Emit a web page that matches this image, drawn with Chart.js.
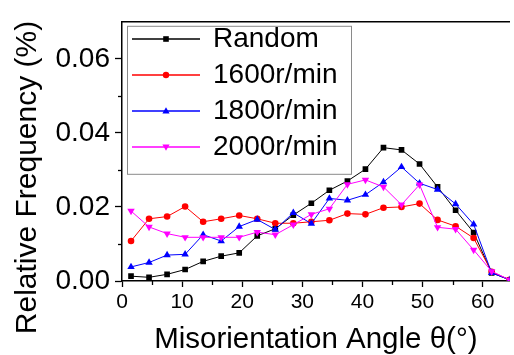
<!DOCTYPE html>
<html>
<head>
<meta charset="utf-8">
<script src="https://cdn.jsdelivr.net/npm/chart.js@4.4.1/dist/chart.umd.min.js"></script>
<style>
html,body{margin:0;padding:0;background:#fff;}
#wrap{width:514px;height:355px;}
</style>
</head>
<body>
<div id="wrap"><canvas id="c" width="514" height="355"></canvas></div>
<script>
// ---- data ----
const angles = [1.5,4.5,7.5,10.5,13.5,16.5,19.5,22.5,25.5,28.5,31.5,34.5,37.5,40.5,43.5,46.5,49.5,52.5,55.5,58.5,61.5,64.5];
const randomSeries = [0.0013,0.0010,0.0018,0.0031,0.0053,0.0067,0.0076,0.0122,0.0141,0.0178,0.0210,0.0245,0.0270,0.0302,0.0360,0.0354,0.0316,0.0254,0.0191,0.0131,0.0022,0.0003];
const rpm1600 = [0.0108,0.0168,0.0174,0.0201,0.0160,0.0168,0.0177,0.0168,0.0156,0.0156,0.0160,0.0164,0.0182,0.0180,0.0198,0.0200,0.0209,0.0165,0.0148,0.0116,0.0025,0.0003];
const rpm1800 = [0.0038,0.0050,0.0070,0.0072,0.0125,0.0108,0.0147,0.0166,0.0139,0.0184,0.0155,0.0223,0.0218,0.0233,0.0267,0.0308,0.0264,0.0247,0.0208,0.0153,0.0022,0.0003];
const rpm2000 = [0.0189,0.0146,0.0128,0.0118,0.0118,0.0118,0.0118,0.0132,0.0125,0.0152,0.0180,0.0195,0.0261,0.0273,0.0254,0.0206,0.0260,0.0145,0.0140,0.0084,0.0026,0.0003];
const seriesNames = ['Random','1600r/min','1800r/min','2000r/min'];
const xMinorTicks = [5,15,25,35,45,55];
const yMinorTicks = [0.01,0.03,0.05];
const xTitle = 'Misorientation Angle \u03B8(\u00B0)';
const yTitle = 'Relative Frequency (%)';

const FONT = "'Liberation Sans', Arial, Helvetica, sans-serif";
Chart.defaults.font.family = FONT;
Chart.defaults.color = '#000';

function pts(arr){ return angles.map((a,i)=>({x:a,y:arr[i]})); }

function legendIcon(color, shape){
  const c = document.createElement('canvas');
  c.width = 68; c.height = 14;
  const g = c.getContext('2d');
  g.strokeStyle = color; g.fillStyle = color; g.lineWidth = 1.3;
  g.beginPath(); g.moveTo(0,7); g.lineTo(68,7); g.stroke();
  const cx = 34, cy = 7;
  g.beginPath();
  if (shape === 'rect') { g.rect(cx-2.8, cy-2.8, 5.6, 5.6); }
  else if (shape === 'circle') { g.arc(cx, cy, 3.2, 0, Math.PI*2); }
  else if (shape === 'up') { g.moveTo(cx, cy-3.8); g.lineTo(cx+3.6, cy+2.5); g.lineTo(cx-3.6, cy+2.5); g.closePath(); }
  else { g.moveTo(cx, cy+3.8); g.lineTo(cx+3.6, cy-2.5); g.lineTo(cx-3.6, cy-2.5); g.closePath(); }
  g.fill();
  return c;
}

const colors = ['#000000','#ff0000','#0000ff','#ff00ff'];
const shapes = ['rect','circle','up','down'];
const icons = colors.map((c,i)=>legendIcon(c, shapes[i]));

const extras = {
  id: 'extras',
  beforeDraw(chart){
    const lg = chart.legend;
    if (lg) { lg.top = 17; lg.left = chart.chartArea.left + 3; }
  },
  afterDraw(chart){
    const {ctx, chartArea, scales:{x, y}} = chart;
    ctx.save();
    ctx.strokeStyle = '#000';
    ctx.lineWidth = 1.3;
    yMinorTicks.forEach(v=>{
      const p = Math.round(y.getPixelForValue(v)) + 0.5;
      ctx.beginPath(); ctx.moveTo(chartArea.left - 4, p); ctx.lineTo(chartArea.left, p); ctx.stroke();
    });
    xMinorTicks.forEach(v=>{
      const p = Math.round(x.getPixelForValue(v)) + 0.5;
      ctx.beginPath(); ctx.moveTo(p, chartArea.bottom); ctx.lineTo(p, chartArea.bottom + 4); ctx.stroke();
    });
    // legend frame
    ctx.strokeStyle = '#8a8a8a';
    ctx.lineWidth = 1;
    ctx.strokeRect(chartArea.left + 5.5, chartArea.top + 4.5, 224, 148);
    ctx.restore();
  }
};

const mk = (label, arr, i, style, rot, r) => ({
  label, data: pts(arr),
  borderColor: colors[i], backgroundColor: colors[i],
  borderWidth: 1, pointStyle: style, rotation: rot,
  pointRadius: r, pointBorderWidth: 0, pointBackgroundColor: colors[i],
  tension: 0, order: 4 - i
});

new Chart(document.getElementById('c'), {
  type: 'line',
  data: {
    datasets: [
      mk(seriesNames[0], randomSeries, 0, 'rect', 0, 4.0),
      mk(seriesNames[1], rpm1600, 1, 'circle', 0, 3.3),
      mk(seriesNames[2], rpm1800, 2, 'triangle', 0, 4.3),
      mk(seriesNames[3], rpm2000, 3, 'triangle', 180, 4.3)
    ]
  },
  options: {
    responsive: false,
    animation: false,
    devicePixelRatio: 1,
    layout: { padding: 0 },
    plugins: {
      tooltip: { enabled: false },
      title: {
        display: true, text: yTitle, position: 'left',
        font: { size: 30, weight: 'normal', lineHeight: 1 },
        color: '#000', padding: { top: 13, bottom: 0 }
      },
      legend: {
        display: true, position: 'chartArea', align: 'start',
        labels: {
          usePointStyle: true, pointStyleWidth: 66,
          font: { size: 28, lineHeight: 1 }, color: '#000', padding: 8,
          sort: (a,b) => a.datasetIndex - b.datasetIndex,
          generateLabels: (chart) => chart.data.datasets.map((d,i)=>({
            text: d.label, datasetIndex: i, pointStyle: icons[i],
            fillStyle: colors[i], strokeStyle: colors[i], lineWidth: 0, hidden: false, fontColor: '#000'
          }))
        }
      }
    },
    scales: {
      x: {
        type: 'linear', position: 'bottom', min: 0, max: 64.5,
        afterFit: s => { s.height = 74; },
        ticks: { stepSize: 10, includeBounds: false, font: { size: 21 }, color: '#000', padding: 3, maxRotation: 0 },
        grid: { drawOnChartArea: false, drawTicks: true, tickLength: 6, tickColor: '#000', tickWidth: 1.3 },
        border: { display: true, color: '#000', width: 1.5 },
        title: { display: true, text: xTitle, font: { size: 29.5, lineHeight: 1 }, color: '#000', padding: { top: 0, bottom: 0 } }
      },
      x2: {
        type: 'linear', position: 'top', min: 0, max: 64.5,
        afterFit: s => { s.height = 14; },
        ticks: { display: false },
        grid: { drawOnChartArea: false, drawTicks: false },
        border: { display: true, color: '#000', width: 1.5 }
      },
      y: {
        type: 'linear', position: 'left', min: 0, max: 0.07,
        afterFit: s => { s.width = 79; },
        ticks: { stepSize: 0.02, includeBounds: false, font: { size: 28 }, color: '#000', padding: 5,
                 callback: v => Number(v).toFixed(2) },
        grid: { drawOnChartArea: false, drawTicks: true, tickLength: 7, tickColor: '#000', tickWidth: 1.3 },
        border: { display: true, color: '#000', width: 1.5 }
      }
    }
  },
  plugins: [extras]
});
</script>
</body>
</html>
